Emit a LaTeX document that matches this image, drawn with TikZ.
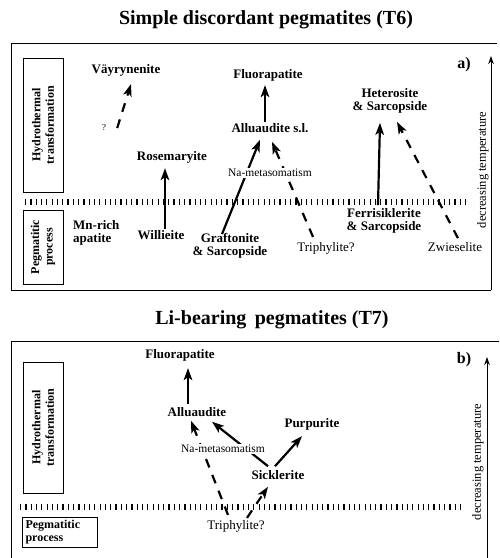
\documentclass[tikz,border=0pt]{standalone}
\usepackage{fontspec}
\setmainfont{Liberation Serif}
\usetikzlibrary{arrows.meta,calc}
\tikzset{
 mineral/.style={font=\fontsize{13}{13.5}\selectfont\bfseries, align=center, inner sep=1pt},
 plain/.style={font=\fontsize{13}{13.5}\selectfont, inner sep=1pt},
 meta/.style={font=\fontsize{11.5}{12}\selectfont, fill=white, inner sep=1pt},
 temp/.style={font=\fontsize{12.5}{13}\selectfont, inner sep=1pt},
 arr/.style={line width=2.2pt, -{Stealth[length=12pt,width=8.5pt,inset=3pt]}},
 darr/.style={arr, dash pattern=on 9pt off 8pt},
 ticks/.style={line width=6.5pt, dash pattern=on 1.2pt off 4.1pt},
 frame/.style={line width=0.9pt},
 tarr/.style={line width=1pt, -{Stealth[length=8pt,width=5.5pt]}},
 title/.style={font=\fontsize{20}{22}\selectfont\bfseries},
 panellabel/.style={font=\fontsize{16}{18}\selectfont\bfseries},
 stagebox/.style={draw, line width=0.9pt, font=\fontsize{12}{13.5}\selectfont\bfseries, align=center, inner sep=2pt}
}
\begin{document}
\begin{tikzpicture}[x=1pt,y=-1pt]
\useasboundingbox (0,0) rectangle (499,558);
% ---------------- Panel a ----------------
\node[title] (titleA) at (266,20) {Simple discordant pegmatites (T6)};
\draw[frame] (497,43) -- (11,43) -- (11,290) -- (491,290);
\coordinate (tbA) at (491,290);
\coordinate (ttA) at (491,56);
\draw[tarr] (tbA) -- (ttA);
\node[panellabel] (labA) at (464,65) {a)};
\node[temp, rotate=90] (tempA) at (483,170) {decreasing temperature};
\node[stagebox, rotate=90, minimum width=134pt, minimum height=40pt] (hydA) at (43,125) {Hydrothermal\\transformation};
\node[stagebox, rotate=90, minimum width=74pt, minimum height=40pt] (pegA) at (43,247) {Pegmatitic\\process};
\draw[ticks] (25,202) -- (467,202);

\node[mineral] (vay) at (126,70) {Väyrynenite};
\node[plain, font=\fontsize{9}{10}\selectfont] (q) at (104,128) {?};
\node[mineral] (fluA) at (268,75) {Fluorapatite};
\node[mineral] (alluA) at (270,128) {Alluaudite s.l.};
\node[mineral] (hetA) at (390,101) {Heterosite\\\& Sarcopside};
\node[mineral] (roseA) at (172,157) {Rosemaryite};
\node[mineral, anchor=west, align=left] (mnA) at (72,233) {Mn-rich\\apatite};
\node[mineral] (willA) at (161,235) {Willieite};
\node[mineral] (grafA) at (230,246) {Graftonite\\\& Sarcopside};
\node[plain] (triA) at (326,248) {Triphylite?};
\node[mineral] (ferA) at (384,221) {Ferrisiklerite\\\& Sarcopside};
\node[plain] (zwiA) at (455,247) {Zwieselite};

\draw[darr] ($(q.east)+(10,0)$) -- ($(vay.south)+(5,7)$);
\draw[arr] ($(alluA.north)+(-5,0)$) -- ($(fluA.south)+(-3,3)$);
\draw[arr] ($(grafA.north)+(-8,2)$) -- ($(alluA.south)+(-10,6)$);
\draw[darr] ($(triA.north)+(-13,-4)$) -- ($(alluA.south)+(2,8)$);
\draw[arr] ($(willA.north)+(4,0)$) -- ($(roseA.south)+(-7,4)$);
\draw[arr] ($(ferA.north)+(-6,-2)$) -- ($(hetA.south)+(-10,8)$);
\draw[darr] ($(zwiA.north)+(3,-3)$) -- ($(hetA.south)+(7,7)$);
\node[meta] (naA) at (270,173) {Na-metasomatism};

% ---------------- Panel b ----------------
\node[title] (titleB) at (272,320) {Li-bearing\, pegmatites (T7)};
\draw[frame] (499,341) -- (11,341) -- (11,558);
\coordinate (tbB) at (487,558);
\coordinate (ttB) at (487,357);
\draw[tarr] (tbB) -- (ttB);
\node[panellabel] (labB) at (464,360) {b)};
\node[temp, rotate=90] (tempB) at (478,462) {decreasing temperature};
\node[stagebox, rotate=90, minimum width=131pt, minimum height=40pt] (hydB) at (43,427.5) {Hydrothermal\\transformation};
\node[stagebox, align=left, minimum width=75pt, minimum height=30pt, text width=68pt] (pegB) at (59.5,532) {Pegmatitic\\process};
\draw[ticks] (20,507) -- (460,507);

\node[mineral] (fluB) at (180,355) {Fluorapatite};
\node[mineral] (alluB) at (197,412) {Alluaudite};
\node[mineral] (purB) at (312,424) {Purpurite};
\node[mineral] (sicB) at (278,475) {Sicklerite};
\node[plain] (triB) at (236,526) {Triphylite?};

\draw[arr] ($(alluB.north)+(-9,-2)$) -- ($(fluB.south)+(8,6)$);
\draw[darr] ($(triB.north)+(-8,-4)$) -- ($(alluB.south)+(-6,3)$);
\draw[arr] ($(sicB.north)+(-10,-3)$) -- ($(alluB.south)+(15,4)$);
\draw[darr] ($(triB.north)+(11,-1)$) -- ($(sicB.south)+(-10,6)$);
\draw[arr] ($(sicB.north)+(-3,-3)$) -- ($(purB.south)+(-10,5)$);
\node[meta] (naB) at (223,449) {Na-metasomatism};
\end{tikzpicture}
\end{document}
